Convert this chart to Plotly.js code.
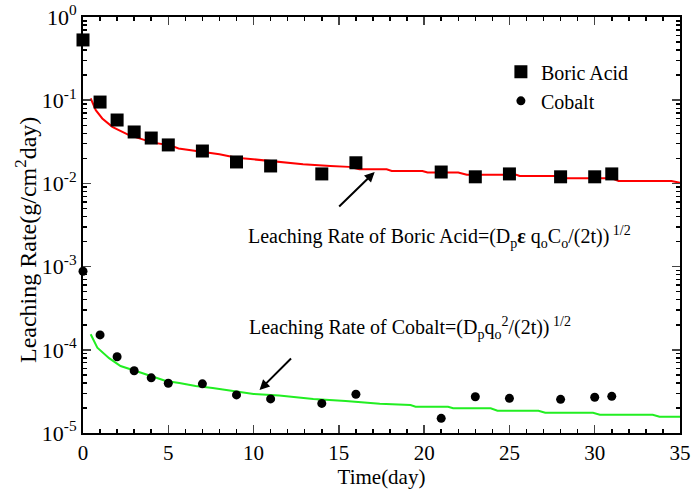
<!DOCTYPE html>
<html>
<head>
<meta charset="utf-8">
<script src="https://cdn.plot.ly/plotly-3.0.1.min.js"></script>
<style>html,body{margin:0;padding:0;background:#fff;}#chart{width:694px;height:489px;}</style>
</head>
<body>
<div id="chart"></div>
<script>
// Measured data (squares / circles)
const boricTime = [0, 1, 2, 3, 4, 5, 7, 9, 11, 14, 16, 21, 23, 25, 28, 30, 31];
const boricRate = [0.53, 0.095, 0.0578, 0.0415, 0.0351, 0.029, 0.0245, 0.0181, 0.0162, 0.013, 0.0177, 0.0137, 0.0120, 0.0130, 0.0120, 0.0120, 0.0130];
const cobaltTime = [0, 1, 2, 3, 4, 5, 7, 9, 11, 14, 16, 21, 23, 25, 28, 30, 31];
const cobaltRate = [0.00088, 1.51e-4, 8.26e-5, 5.6e-5, 4.6e-5, 3.96e-5, 3.9e-5, 2.87e-5, 2.57e-5, 2.27e-5, 2.92e-5, 1.5e-5, 2.73e-5, 2.61e-5, 2.54e-5, 2.69e-5, 2.76e-5];

// Model curves
const boricModelTime = [0.45, 0.75, 1.13, 1.72, 2.1, 2.7, 4.1, 5.1, 5.6, 7, 8, 9, 10.4, 11.7, 12.9, 14.5, 15.6, 16.2, 17.8, 18.1, 19.9, 20.2, 22, 22.5, 25.4, 25.6, 28, 28.4, 31, 31.4, 34.5, 35];
const boricModelRate = [0.105, 0.0759, 0.0603, 0.0479, 0.0437, 0.038, 0.0309, 0.0288, 0.0263, 0.024, 0.0224, 0.0204, 0.0191, 0.0178, 0.0170, 0.0162, 0.0158, 0.0148, 0.0148, 0.0141, 0.0141, 0.0135, 0.0135, 0.0127, 0.0127, 0.0123, 0.0123, 0.0115, 0.0115, 0.0107, 0.0107, 0.0102];
const cobaltModelTime = [0.45, 0.84, 1.53, 2.2, 3.1, 4.1, 4.86, 5.65, 6.6, 7.6, 8.6, 10, 11.5, 13.5, 15.4, 16.4, 17.4, 19.2, 19.5, 21.4, 21.7, 23.9, 24.3, 26.7, 27.1, 29.9, 30.3, 33.4, 33.8, 35];
const cobaltModelRate = [1.54e-4, 1.06e-4, 7.94e-5, 6.38e-5, 5.56e-5, 4.79e-5, 4.22e-5, 3.98e-5, 3.67e-5, 3.47e-5, 3.24e-5, 2.95e-5, 2.82e-5, 2.57e-5, 2.43e-5, 2.31e-5, 2.24e-5, 2.17e-5, 2.07e-5, 2.07e-5, 1.98e-5, 1.98e-5, 1.85e-5, 1.85e-5, 1.75e-5, 1.75e-5, 1.66e-5, 1.66e-5, 1.57e-5, 1.57e-5];

const xTickVals = [0, 5, 10, 15, 20, 25, 30, 35];
const yTickVals = [1, 0.1, 0.01, 0.001, 0.0001, 0.00001];
const yTickText = ['10<sup>0</sup>', '10<sup>-1</sup>', '10<sup>-2</sup>', '10<sup>-3</sup>', '10<sup>-4</sup>', '10<sup>-5</sup>'];
const seriesNames = ['Boric Acid', 'Cobalt'];
const xTitle = 'Time(day)';
const yTitle = 'Leaching Rate(g/cm<sup>2</sup>day)';
const boricLabel = 'Leaching Rate of Boric Acid=(D<sub>p</sub><b>ε</b> q<sub>o</sub>C<sub>o</sub>/(2t))<sup> 1/2</sup>';
const cobaltLabel = 'Leaching Rate of Cobalt=(D<sub>p</sub>q<sub>o</sub><sup>2</sup>/(2t))<sup> 1/2</sup>';

const minorVals = [];
for (let e = -5; e < 0; e++) for (let m = 2; m <= 9; m++) minorVals.push(m * Math.pow(10, e));

const FONT = '"Liberation Serif", "Times New Roman", serif';

const traces = [
  {x: boricModelTime, y: boricModelRate, mode: 'lines', line: {color: '#ff0000', width: 2}, showlegend: false, hoverinfo: 'skip'},
  {x: cobaltModelTime, y: cobaltModelRate, mode: 'lines', line: {color: '#22ee22', width: 2}, showlegend: false, hoverinfo: 'skip'},
  {x: boricTime, y: boricRate, mode: 'markers', name: seriesNames[0],
   marker: {symbol: 'square', size: 13, color: '#000'}, cliponaxis: false},
  {x: cobaltTime, y: cobaltRate, mode: 'markers', name: seriesNames[1],
   marker: {symbol: 'circle', size: 9, color: '#000'}, cliponaxis: false}
];

const layout = {
  width: 694, height: 489,
  margin: {l: 83, r: 14, t: 17, b: 56},
  paper_bgcolor: '#fff', plot_bgcolor: '#fff',
  font: {family: FONT, color: '#000', size: 20},
  showlegend: true,
  legend: {x: 0.70, y: 0.915, xanchor: 'left', yanchor: 'top', bgcolor: 'rgba(0,0,0,0)',
           font: {family: FONT, size: 20}},
  xaxis: {
    range: [0, 35], tickmode: 'array', tickvals: xTickVals,
    ticks: 'inside', ticklen: 8, tickwidth: 1.5, showline: true, linewidth: 2, linecolor: '#000',
    mirror: 'allticks', showgrid: false, zeroline: false,
    tickfont: {family: FONT, size: 21},
    minor: {dtick: 1, ticks: 'inside', ticklen: 4, tickwidth: 1.5, tickcolor: '#000', showgrid: false},
    title: {text: xTitle, font: {family: FONT, size: 21}, standoff: 2}
  },
  yaxis: {
    type: 'log', range: [-5, 0], tickmode: 'array', tickvals: yTickVals, ticktext: yTickText,
    ticks: 'inside', ticklen: 8, tickwidth: 1.5, showline: true, linewidth: 2, linecolor: '#000',
    mirror: 'allticks', showgrid: false, zeroline: false,
    tickfont: {family: FONT, size: 22},
    minor: {tickmode: 'array', tickvals: minorVals, ticks: 'inside', ticklen: 4, tickwidth: 1.5, tickcolor: '#000', showgrid: false}
  },
  annotations: [
    {x: (26 - 83) / 597, y: (433 - 240) / 416, xref: 'paper', yref: 'paper', xanchor: 'center', yanchor: 'middle',
     text: yTitle, textangle: -90, showarrow: false, font: {family: FONT, size: 24}},
    {x: 17.1, y: Math.log10(0.0137), xref: 'x', yref: 'y', text: '', showarrow: true,
     ax: -37, ay: 36, arrowhead: 2, arrowsize: 1, arrowwidth: 2, arrowcolor: '#000'},
    {x: 10.35, y: Math.log10(3.29e-5), xref: 'x', yref: 'y', text: '', showarrow: true,
     ax: 33, ay: -33, arrowhead: 2, arrowsize: 1, arrowwidth: 2, arrowcolor: '#000'},
    {x: (246 - 83) / 597, y: (433 - 237) / 416, xref: 'paper', yref: 'paper', xanchor: 'left', yanchor: 'middle',
     text: boricLabel, showarrow: false, font: {family: FONT, size: 20}},
    {x: (247 - 83) / 597, y: (433 - 328) / 416, xref: 'paper', yref: 'paper', xanchor: 'left', yanchor: 'middle',
     text: cobaltLabel, showarrow: false, font: {family: FONT, size: 20}}
  ]
};

Plotly.newPlot('chart', traces, layout, {staticPlot: true, displayModeBar: false});
</script>
</body>
</html>
